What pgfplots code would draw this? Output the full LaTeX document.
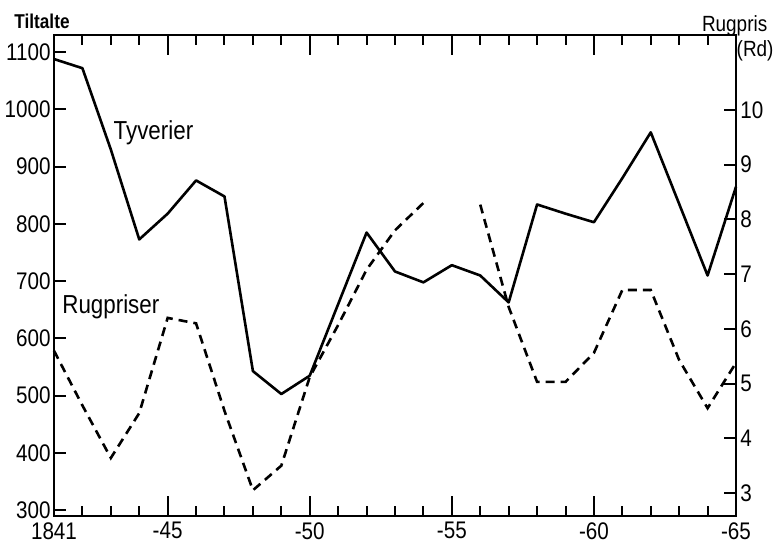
\documentclass[border=0pt]{standalone}
\usepackage{pgfplots}
\pgfplotsset{compat=1.18}
\usepackage{pgfplotstable}
\usepackage{fontspec}
\setmainfont[FakeStretch=0.86]{Liberation Sans}

% Tiltalte for tyveri (venstre akse)
\pgfplotstableread{
year tyv
1841 1088
1842 1072
1843 930
1844 773
1845 818
1846 876
1847 848
1848 543
1849 503
1850 535
1851 660
1852 785
1853 717
1854 698
1855 728
1856 710
1857 663
1858 834
1859 818
1860 803
1861 880
1862 960
1863 835
1864 710
1865 865
}\tyvdata

% Rugpriser i Rd (hoejre akse), 1855 mangler
\pgfplotstableread{
year rug
1841 5.6
1842 4.6
1843 3.64
1844 4.46
1845 6.2
1846 6.1
1847 4.5
1848 3.05
1849 3.5
1850 5.12
1851 6.07
1852 7.08
1853 7.8
1854 8.3
1855 nan
1856 8.27
1857 6.4
1858 5.03
1859 5.03
1860 5.56
1861 6.71
1862 6.71
1863 5.43
1864 4.55
1865 5.38
}\rugdata

\begin{document}
\begin{tikzpicture}
\pgfplotsset{
  every axis/.append style={
    scale only axis, width=341pt, height=240.5pt,
    xmin=1841, xmax=1865,
    axis line style={line width=1.2pt},
    tick align=inside,
    tick style={line width=1pt, black},
    clip=false,
  },
}
\begin{axis}[
    name=ax,
    ymin=290, ymax=1130,
    xtick={1841,1845,1850,1855,1860,1865},
    xticklabels={1841\hspace{8pt},-45,-50,-55,-60,-65},
    minor xtick={1842,1843,1844,1846,1847,1848,1849,1851,1852,1853,1854,1856,1857,1858,1859,1861,1862,1863,1864},
    xtick pos=both, xticklabel pos=bottom,
    major tick length=10pt, minor tick length=5pt,
    ytick=\empty,
    extra y ticks={300,400,...,1100},
    extra tick style={major tick length=6pt},
    ytick pos=left,
    ticklabel style={font=\fontsize{12}{14}\selectfont},
    xticklabel style={inner xsep=0pt, inner ysep=3pt},
    yticklabel style={inner xsep=1.5pt, inner ysep=0pt},
    /pgf/number format/1000 sep={},
    /pgf/number format/assume math mode=true,
  ]
  \addplot[black, line width=1.3pt, line join=round] table[x=year, y=tyv] {\tyvdata};
  \node[font=\fontsize{13}{15}\selectfont] at (axis cs:1844.5,959) {Tyverier};
  \node[font=\fontsize{13}{15}\selectfont] at (axis cs:1843,655) {Rugpriser};
  \node[font=\fontsize{10}{12}\selectfont\bfseries] at (rel axis cs:-0.0176,1.029) {Tiltalte};
\end{axis}
\begin{axis}[
    ymin=2.58, ymax=11.37,
    axis x line=none,
    axis y line*=right,
    ytick={3,4,...,10},
    ytick pos=right,
    major tick length=6pt,
    ticklabel style={font=\fontsize{12}{14}\selectfont},
    yticklabel style={inner xsep=2pt, inner ysep=0pt},
    /pgf/number format/assume math mode=true,
    unbounded coords=jump,
  ]
  \addplot[black, line width=1.3pt, dash pattern=on 4.5pt off 3pt] table[x=year, y=rug] {\rugdata};
  \node[font=\fontsize{11}{13}\selectfont, anchor=base] at ([yshift=1.5pt]rel axis cs:0.998,1) {Rugpris};
  \node[font=\fontsize{11}{13}\selectfont] at (rel axis cs:1.028,0.967) {(Rd)};
\end{axis}
\pgfresetboundingbox
\path[use as bounding box] ([xshift=-27pt,yshift=-13pt]ax.south west) rectangle ([xshift=20pt,yshift=17.5pt]ax.north east);
\end{tikzpicture}
\end{document}
